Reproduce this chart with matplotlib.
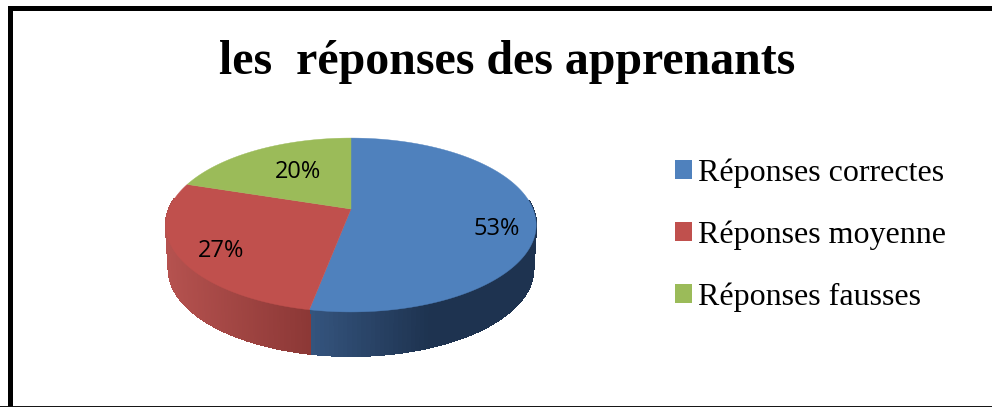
import numpy as np
import matplotlib
matplotlib.use("Agg")
import matplotlib.pyplot as plt
from matplotlib.colors import to_rgb
from matplotlib.patches import Patch

title = "les  réponses des apprenants"
labels = ["Réponses correctes", "Réponses moyenne", "Réponses fausses"]
values = [53, 27, 20]
colors = ["#4F81BD", "#C0504D", "#9BBB59"]
# side colours, from the left end of the visible wall to the right end
side_left = ["#35557F", "#B5524F", "#9BBB59"]
side_right = ["#1E3350", "#8C3836", "#9BBB59"]

# pie geometry, pixels
cx, cy = 351, 209
rx, ry = 182, 84
persp = 0.184
depth = 44


def project(angle):
    # angle is clockwise from 12 o'clock, tilted with a small perspective
    c, s = np.sin(angle), np.cos(angle)
    den = 1 + persp * s
    return cx + rx * c / den, cy - ry * s / den


fig = plt.figure(figsize=(9.92, 4.07), dpi=100)
ax = fig.add_axes([0, 0, 1, 1])
ax.set_xlim(0, 992)
ax.set_ylim(407, 0)
ax.axis("off")

# frame
ax.plot([9.5, 9.5, 992], [407, 7.5, 7.5], color="black", lw=3.6,
        solid_joinstyle="miter", solid_capstyle="butt")
ax.plot([0, 992], [406.5, 406.5], color="#111111", lw=1.4)

edges = 2 * np.pi * np.cumsum([0] + values) / sum(values)

# side wall, drawn in thin strips for the gradient
for i in range(len(values)):
    a = np.linspace(edges[i], edges[i + 1], 160)
    x, y = project(a)
    left, right = np.array(to_rgb(side_left[i])), np.array(to_rgb(side_right[i]))
    xmin, xmax = x.min(), x.max()
    if i == 0:
        xmax = 430
    for k in range(len(a) - 1):
        if np.cos(a[k]) > 0.12:
            continue
        t = np.clip((x[k] - xmin) / (xmax - xmin), 0, 1)
        col = left + (right - left) * t
        sx = [x[k], x[k + 1], cx + (x[k + 1] - cx) * 0.985, cx + (x[k] - cx) * 0.985]
        sy = [y[k], y[k + 1], y[k + 1] + depth, y[k] + depth]
        ax.fill(sx, sy, color=col, lw=0.8, antialiased=False, zorder=2)

# top of the pie
for i in range(len(values)):
    a = np.linspace(edges[i], edges[i + 1], 200)
    x, y = project(a)
    ax.fill(np.r_[cx, x], np.r_[cy, y], color=colors[i], lw=0.3, zorder=3)

# value labels
label_x = [497, 221, 298]
label_y = [229, 251, 172]
for i in range(len(values)):
    ax.text(label_x[i], label_y[i], f"{values[i]}%", ha="center", va="center",
            family="Open Sans", fontsize=17, color="black", zorder=4)

ax.text(507, 62, title, ha="center", va="center", family="Liberation Serif",
        fontweight="bold", fontsize=34.5, color="black")

handles = [Patch(color=c, lw=0) for c in colors]
leg = ax.legend(handles, labels, loc="upper left", bbox_to_anchor=(675 / 992, 1 - 158 / 407),
                frameon=False, prop={"family": "Liberation Serif", "size": 23},
                handlelength=0.53, handleheight=0.53, handletextpad=0.2,
                labelspacing=1.02, borderpad=0, borderaxespad=0)

fig.savefig("out.png", dpi=100)
